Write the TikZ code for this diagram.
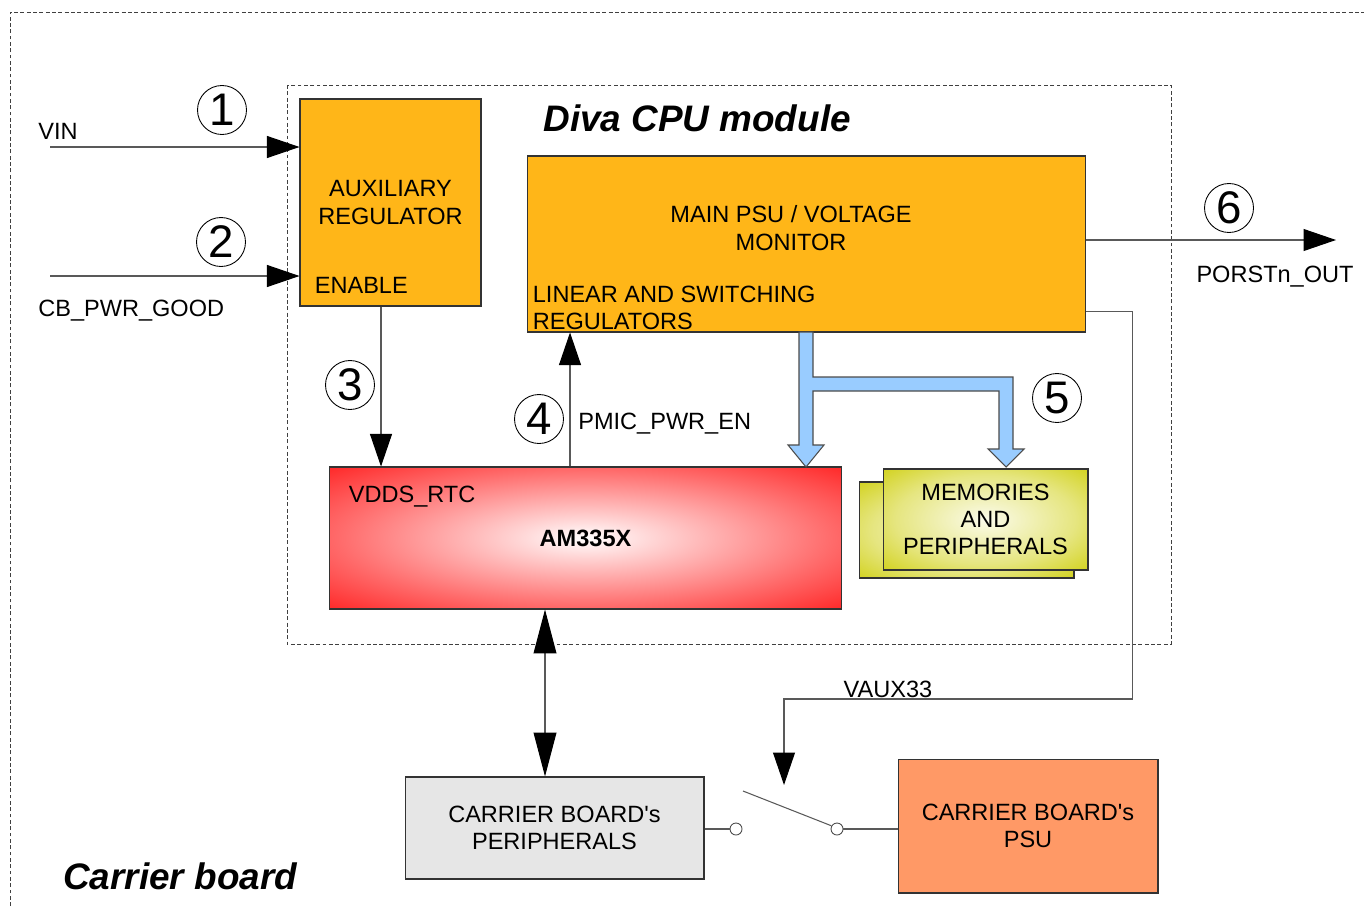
\documentclass[tikz,border=0pt]{standalone}
\usepackage{fontspec}
\setmainfont{Liberation Sans}
\usetikzlibrary{arrows.meta,calc}

\definecolor{regorange}{RGB}{255,182,24}
\definecolor{memyellow}{RGB}{204,204,0}
\definecolor{busblue}{RGB}{153,204,255}
\definecolor{psuorange}{RGB}{255,153,102}
\definecolor{cbgray}{RGB}{230,230,230}
\pgfdeclareradialshading{chipshade}{\pgfpoint{0bp}{0bp}}{color(0bp)=(white); color(6bp)=(red!15!white); color(24bp)=(red!58!white); color(38bp)=(red!90!white); color(46bp)=(red); color(72bp)=(red)}
\pgfdeclareradialshading{memshade}{\pgfpoint{0bp}{0bp}}{color(0bp)=(memyellow!8!white); color(22bp)=(memyellow!50!white); color(40bp)=(memyellow); color(72bp)=(memyellow)}

\begin{document}
\begin{tikzpicture}[x=0.02cm, y=-0.02cm,
    every node/.style={font=\fontsize{13.4}{15.5}\selectfont, inner sep=0pt},
    regbox/.style={rectangle, draw=black!80, line width=0.6pt},
    sig/.style={draw=black!65, line width=0.6pt},
    arrowed/.style={-{Triangle[length=18.5pt, width=12.5pt, color=black]}},
    twoway/.style={{Triangle[length=25pt, width=13pt, color=black]}-{Triangle[length=25pt, width=13pt, color=black]}},
    numcircle/.style={circle, draw=black, line width=0.5pt, minimum size=0.98cm, font=\fontsize{26}{26}\selectfont},
    swdot/.style={circle, draw=black!70, fill=white, line width=0.5pt, minimum size=0.24cm},
    dashframe/.style={draw=black!75, line width=0.5pt, dash pattern=on 2.2pt off 1.4pt},
    busline/.style={fill=busblue, draw=black!70, line width=0.6pt, line join=miter}]

        \useasboundingbox (0,0) rectangle (1364,906);

        % Carrier board and module frames
        \draw[dashframe] (10,906) -- (10,12) -- (1364,12);
        \draw[dashframe] (287,85) rectangle (1171,644);
        \node[anchor=west, font=\fontsize{21}{21}\selectfont\bfseries\itshape] (modtitle) at (543,118) {Diva CPU module};
        \node[anchor=west, font=\fontsize{21}{21}\selectfont\bfseries\itshape] (cbtitle) at (63,876) {Carrier board};

        % Blocks of the module
        \node[regbox, fill=regorange, minimum width=3.62cm, minimum height=4.14cm, align=center] (aux) at (390.5,202.5) {AUXILIARY\\REGULATOR};
        \node[anchor=west] (enable) at ($(aux.south west)+(15,-21)$) {ENABLE};
        \node[regbox, fill=regorange, minimum width=11.18cm, minimum height=3.52cm] (psu) at (806.5,244) {};
        \node[align=center] (psutext) at (791,228) {MAIN PSU / VOLTAGE\\MONITOR};
        \node[anchor=west, align=left] (lsreg) at ($(psu.south west)+(6,-25)$) {LINEAR AND SWITCHING\\REGULATORS};
        \node[regbox, shade, shading=chipshade, minimum width=10.26cm, minimum height=2.84cm, font=\fontsize{13.4}{15.5}\selectfont\bfseries] (cpu) at (585.5,538) {AM335X};
        \node[anchor=west] (rtc) at ($(cpu.north west)+(20,30)$) {VDDS\_RTC};
        \node[regbox, shade, shading=memshade, minimum width=4.30cm, minimum height=1.92cm] (memback) at (966.5,530) {};
        \node[regbox, shade, shading=memshade, minimum width=4.10cm, minimum height=2.02cm, align=center] (mem) at (985.5,519.5) {MEMORIES\\AND\\PERIPHERALS};

        % Blocks of the carrier board
        \node[regbox, fill=cbgray, minimum width=5.98cm, minimum height=2.04cm, align=center] (cbper) at (554.5,828) {CARRIER BOARD\textquotesingle s\\PERIPHERALS};
        \node[regbox, fill=psuorange, minimum width=5.20cm, minimum height=2.68cm, align=center] (cbpsu) at (1028,826) {CARRIER BOARD\textquotesingle s\\PSU};

        % Step numbers
        \node[numcircle] (c1) at (222,110) {1};
        \node[numcircle] (c2) at (221,242) {2};
        \node[numcircle] (c3) at (350,385) {3};
        \node[numcircle] (c4) at (539,419) {4};
        \node[numcircle] (c5) at (1057,398) {5};
        \node[numcircle] (c6) at (1229,208) {6};

        % Inputs
        \coordinate (vinstart) at (50,147);
        \coordinate (pgstart) at (50,276);
        \node[anchor=west] (vin) at (38,131) {VIN};
        \node[anchor=west] (pg) at (38,311) {CB\_PWR\_GOOD};
        \draw[sig, arrowed] (vinstart) -- (vinstart -| aux.west);
        \draw[sig, arrowed] (pgstart) -- (pgstart -| aux.west);

        % Signals between the blocks
        \coordinate (a3) at ($(aux.south)+(-9.5,0)$);
        \coordinate (a4) at ($(cpu.north)+(-15.5,0)$);
        \coordinate (a7) at ($(cpu.south)+(-40.5,0)$);
        \draw[sig, arrowed] (a3) -- (a3 |- cpu.north);
        \draw[sig, arrowed] (a4) -- (a4 |- psu.south);
        \node[anchor=west] (pmic) at (578,424) {PMIC\_PWR\_EN};
        \draw[sig, twoway] (a7) -- (a7 |- cbper.north);

        % Reset output
        \coordinate (rstout) at (1336,240);
        \draw[sig, arrowed] (psu.east |- rstout) -- (rstout);
        \node (porst) at (1275,277) {PORSTn\_OUT};

        % Power rails to the cpu and the memories
        \draw[busline] (799,332) -- (799,445) -- (788,445) -- (806,467) -- (824,445) -- (813,445) -- (813,391)
            -- (999,391) -- (999,449) -- (988,449) -- (1006,467) -- (1024,449) -- (1013,449) -- (1013,377)
            -- (813,377) -- (813,332) -- cycle;

        % VAUX33 and the switch
        \coordinate (vauxsrc) at ($(psu.south east)+(0,-21)$);
        \coordinate (swctl) at (784,785);
        \draw[sig, arrowed] (vauxsrc) -- ++(46,0) |- ($(swctl)+(0,-86)$) -- (swctl);
        \node (vaux) at (888,689) {VAUX33};
        \node[swdot] (sw1) at (736,829) {};
        \node[swdot] (sw2) at (837,829) {};
        \coordinate (lever) at (743,791);
        \draw[sig] (sw1 -| cbper.east) -- (sw1);
        \draw[sig] (sw2) -- (sw2 -| cbpsu.west);
        \draw[sig] (lever) -- (sw2.150);

\end{tikzpicture}
\end{document}
